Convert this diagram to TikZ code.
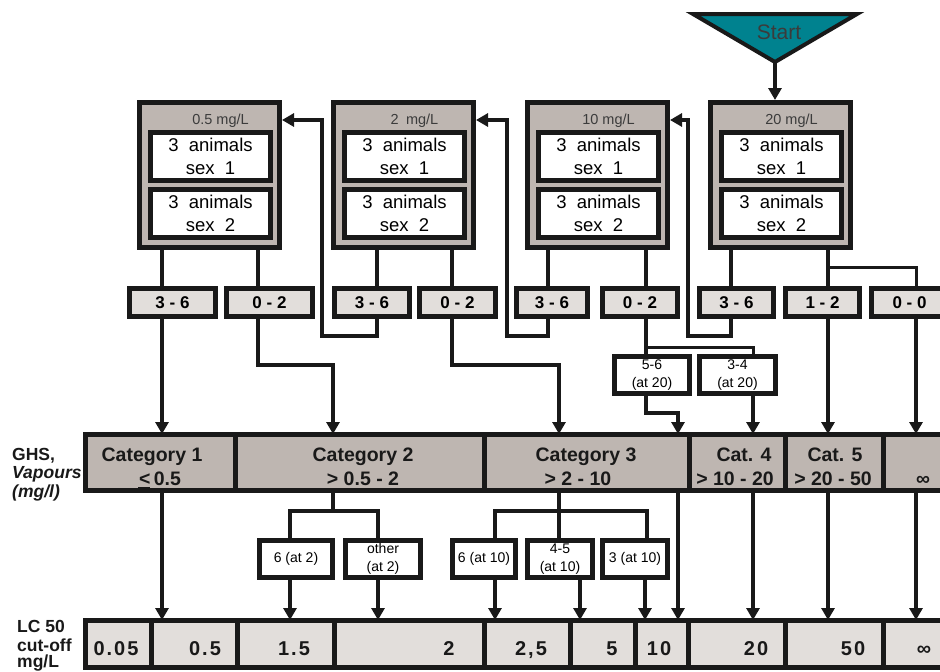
\documentclass[tikz,border=0pt]{standalone}
\usepackage{fontspec}
\setmainfont{Liberation Sans}
\newfontfamily\spacedfont[LetterSpace=10]{Liberation Sans}
\usetikzlibrary{arrows.meta}
\definecolor{boxgray}{RGB}{190,182,177}
\definecolor{lightfill}{RGB}{226,222,219}
\definecolor{startteal}{RGB}{0,130,143}
\definecolor{labgray}{RGB}{60,60,60}
\definecolor{ink}{RGB}{25,25,25}
\newcommand\ulless{\makebox[0pt][l]{\kern-1pt\rule[-5pt]{12pt}{3pt}}<}
\begin{document}
\begin{tikzpicture}[x=1pt,y=-1pt,
  concbox/.style={draw=ink, line width=5pt, fill=boxgray, anchor=north west, minimum width=140pt, minimum height=145pt, inner sep=0pt},
  animbox/.style={draw=ink, line width=5pt, fill=white, anchor=north west, minimum width=120pt, minimum height=48pt, inner sep=0pt, align=center, font=\fontsize{18.5}{23}\selectfont},
  conclab/.style={anchor=base, text=labgray, font=\fontsize{14.5}{17}\selectfont, inner sep=0pt},
  resbox/.style={draw=ink, line width=5pt, fill=lightfill, anchor=north west, minimum height=28pt, inner sep=0pt, font=\bfseries\fontsize{17}{20}\selectfont},
  smallbox/.style={draw=ink, line width=5pt, fill=white, anchor=north west, minimum height=37pt, inner sep=0pt, align=center, font=\fontsize{14}{18}\selectfont},
  catcell/.style={draw=ink, line width=5pt, fill=boxgray, anchor=north west, outer sep=0pt, minimum height=56.5pt, inner sep=0pt},
  lccell/.style={draw=ink, line width=5pt, fill=lightfill, anchor=north west, outer sep=0pt, minimum height=47pt, inner sep=0pt},
  cattext/.style={anchor=base, inner sep=0pt, font=\bfseries\fontsize{19.5}{24}\selectfont, text=ink},
  lctext/.style={anchor=base, inner sep=0pt, font=\spacedfont\bfseries\fontsize{20}{24}\selectfont, text=ink},
  sidetext/.style={anchor=base west, inner sep=0pt, font=\bfseries\fontsize{17.5}{20}\selectfont, text=ink},
  conn/.style={draw=ink, line width=4pt},
  branch/.style={draw=ink, line width=3pt},
  arr/.style={-{Triangle[width=13pt,length=12pt]}},
]
\useasboundingbox (0,0) rectangle (940,672);
\clip (0,0) rectangle (940,672);

% ---------- Start triangle ----------
\coordinate (stl) at (693,14);
\coordinate (str) at (857,14);
\coordinate (sta) at (775,62);
\draw[draw=ink, line width=4pt, fill=startteal] (stl) -- (str) -- (sta) -- cycle;
\node[anchor=base, inner sep=0pt, font=\fontsize{21}{25}\selectfont, text=ink!85] (start) at (779,39) {Start};

% ---------- concentration boxes ----------
\foreach \n/\xx/\lab in {1/137/{0.5 mg/L},2/331/{2\enspace mg/L},3/525/{10 mg/L},4/708/{20 mg/L}}{
  \node[concbox] (c\n) at (\xx,100) {};
  \node[conclab] (c\n lab) at ({\xx+83.5},124) {\lab};
  \node[animbox] (c\n a) at ({\xx+11},130) {3\ \ animals\\sex\ \ 1};
  \node[animbox] (c\n b) at ({\xx+11},187) {3\ \ animals\\sex\ \ 2};
}

% ---------- result boxes ----------
\node[resbox, minimum width=86pt] (r1a) at (127,286) {3 - 6};
\node[resbox, minimum width=86pt] (r1b) at (224,286) {0 - 2};
\node[resbox, minimum width=75pt] (r2a) at (332,286) {3 - 6};
\node[resbox, minimum width=76pt] (r2b) at (417,286) {0 - 2};
\node[resbox, minimum width=71pt] (r3a) at (514,286) {3 - 6};
\node[resbox, minimum width=75pt] (r3b) at (600,286) {0 - 2};
\node[resbox, minimum width=74pt] (r4a) at (697,286) {3 - 6};
\node[resbox, minimum width=74pt] (r4b) at (783,286) {1 - 2};
\node[resbox, minimum width=76pt] (r4c) at (869,286) {0 - 0};

% ---------- small boxes ----------
\node[smallbox, minimum width=75pt] (s56) at (612,354) {5-6\\(at 20)};
\node[smallbox, minimum width=76pt] (s34) at (697,354) {3-4\\(at 20)};
\node[smallbox, minimum width=73pt] (b6a) at (257,538) {6 (at 2)};
\node[smallbox, minimum width=75pt] (bot) at (343,538) {other\\(at 2)};
\node[smallbox, minimum width=63pt] (b6b) at (450,538) {6 (at 10)};
\node[smallbox, minimum width=65pt] (b45) at (525,538) {4-5\\(at 10)};
\node[smallbox, minimum width=65pt] (b3) at (600,538) {3 (at 10)};

% ---------- GHS category row ----------
\node[catcell, minimum width=149.5pt] (k1) at (85.5,434) {};
\node[catcell, minimum width=249pt] (k2) at (235,434) {};
\node[catcell, minimum width=205pt] (k3) at (484,434) {};
\node[catcell, minimum width=96pt] (k4) at (689,434) {};
\node[catcell, minimum width=98.5pt] (k5) at (785,434) {};
\node[catcell, minimum width=86.5pt] (k6) at (883.5,434) {};

\node[cattext] (k1t) at (152,461) {Category 1};
\node[cattext] (k1u) at (160,485) {\ulless\,0.5};
\node[cattext] (k2t) at (363,461) {Category 2};
\node[cattext] (k2u) at (363,485) {> 0.5 - 2};
\node[cattext] (k3t) at (586,461) {Category 3};
\node[cattext] (k3u) at (578,485) {> 2 - 10};
\node[cattext] (k4t) at (744,461) {Cat. 4};
\node[cattext] (k4u) at (735,485) {> 10 - 20};
\node[cattext] (k5t) at (835,461) {Cat. 5};
\node[cattext] (k5u) at (833,485) {> 20 - 50};
\node[cattext] (k6u) at (923,485) {∞};

% ---------- LC50 row ----------
\node[lccell, minimum width=65.5pt] (l1) at (85.5,620) {};
\node[lccell, minimum width=86pt] (l2) at (151,620) {};
\node[lccell, minimum width=97pt] (l3) at (237,620) {};
\node[lccell, minimum width=150pt] (l4) at (334,620) {};
\node[lccell, minimum width=86pt] (l5) at (484,620) {};
\node[lccell, minimum width=65.5pt] (l6) at (570,620) {};
\node[lccell, minimum width=53pt] (l7) at (635.5,620) {};
\node[lccell, minimum width=97pt] (l8) at (688.5,620) {};
\node[lccell, minimum width=97.5pt] (l9) at (785.5,620) {};
\node[lccell, minimum width=87pt] (l10) at (883,620) {};

\node[lctext] (l1t) at (116,655) {0.05};
\node[lctext] (l2t) at (205,655) {0.5};
\node[lctext] (l3t) at (294,655) {1.5};
\node[lctext] (l4t) at (449,655) {2};
\node[lctext] (l5t) at (531,655) {2,5};
\node[lctext] (l6t) at (612,655) {5};
\node[lctext] (l7t) at (659,655) {10};
\node[lctext] (l8t) at (756,655) {20};
\node[lctext] (l9t) at (853,655) {50};
\node[lctext] (l10t) at (924,655) {∞};

% ---------- side labels ----------
\node[sidetext] (ghs1) at (12,460) {GHS,};
\node[sidetext] (ghs2) at (12,478) {\itshape Vapours};
\node[sidetext] (ghs3) at (12,497) {\itshape (mg/l)};
\node[sidetext] (lc1) at (17,632) {LC 50};
\node[sidetext] (lc2) at (17,651) {cut-off};
\node[sidetext] (lc3) at (17,667) {mg/L};

% ---------- lane coordinates ----------
\coordinate (xA) at (162,0);
\coordinate (xB) at (258,0);
\coordinate (xC) at (377,0);
\coordinate (xD) at (452,0);
\coordinate (xE) at (548,0);
\coordinate (xF) at (646,0);
\coordinate (xG) at (731,0);
\coordinate (xH) at (828,0);
\coordinate (xI) at (916,0);
\coordinate (xJ) at (333,0);
\coordinate (xK) at (559,0);
\coordinate (xL) at (678,0);
\coordinate (xM) at (753,0);
\coordinate (xP) at (290,0);
\coordinate (xQ) at (378,0);
\coordinate (xR) at (495,0);
\coordinate (xS) at (580,0);
\coordinate (xT) at (645,0);
\coordinate (xU) at (647,0);
\coordinate (f1) at (322,0);
\coordinate (f2) at (507,0);
\coordinate (f3) at (688,0);
\coordinate (yTop) at (0,120);
\coordinate (yBot) at (0,336);
\coordinate (yR) at (0,365);
\coordinate (yBr) at (0,347);
\coordinate (y56) at (0,413);
\coordinate (y04) at (0,267);
\coordinate (yLow) at (0,511);

% ---------- connectors ----------
\draw[conn,arr] (sta) -- (c4.north -| sta);

\draw[conn] (c1.south -| xA) -- (r1a.north -| xA);
\draw[conn] (c1.south -| xB) -- (r1b.north -| xB);
\draw[conn] (c2.south -| xC) -- (r2a.north -| xC);
\draw[conn] (c2.south -| xD) -- (r2b.north -| xD);
\draw[conn] (c3.south -| xE) -- (r3a.north -| xE);
\draw[conn] (c3.south -| xF) -- (r3b.north -| xF);
\draw[conn] (c4.south -| xG) -- (r4a.north -| xG);
\draw[conn] (c4.south -| xH) -- (r4b.north -| xH);
\draw[branch] (xH |- y04) -| (r4c.north -| xI);

% feedback loops
\draw[conn,arr] (r2a.south -| xC) |- (f1 |- yBot) -- (f1 |- yTop) -- (c1.east |- yTop);
\draw[conn,arr] (r3a.south -| xE) |- (f2 |- yBot) -- (f2 |- yTop) -- (c2.east |- yTop);
\draw[conn,arr] (r4a.south -| xG) |- (f3 |- yBot) -- (f3 |- yTop) -- (c3.east |- yTop);

% results to categories
\draw[conn,arr] (r1a.south -| xA) -- (k1.north -| xA);
\draw[conn,arr] (r1b.south -| xB) |- (xJ |- yR) -- (k2.north -| xJ);
\draw[conn,arr] (r2b.south -| xD) |- (xK |- yR) -- (k3.north -| xK);
\draw[conn] (r3b.south -| xF) -- (s56.north -| xF);
\draw[branch] (xF |- yBr) -| (s34.north -| xM);
\draw[conn,arr] (s56.south -| xF) |- (xL |- y56) -- (k3.north -| xL);
\draw[conn,arr] (s34.south -| xM) -- (k4.north -| xM);
\draw[conn,arr] (r4b.south -| xH) -- (k5.north -| xH);
\draw[conn,arr] (r4c.south -| xI) -- (k6.north -| xI);

% categories to LC50
\draw[conn,arr] (k1.south -| xA) -- (l2.north -| xA);
\draw[conn] (k2.south -| xJ) -- (xJ |- yLow);
\draw[conn] (b6a.north -| xP) |- (xQ |- yLow) -- (bot.north -| xQ);
\draw[conn,arr] (b6a.south -| xP) -- (l3.north -| xP);
\draw[conn,arr] (bot.south -| xQ) -- (l4.north -| xQ);
\draw[conn] (k3.south -| xK) -- (b45.north -| xK);
\draw[conn] (b6b.north -| xR) |- (xU |- yLow) -- (b3.north -| xU);
\draw[conn,arr] (b6b.south -| xR) -- (l5.north -| xR);
\draw[conn,arr] (b45.south -| xS) -- (l6.north -| xS);
\draw[conn,arr] (b3.south -| xT) -- (l7.north -| xT);
\draw[conn,arr] (k3.south -| xL) -- (l7.north -| xL);
\draw[conn,arr] (k4.south -| xM) -- (l8.north -| xM);
\draw[conn,arr] (k5.south -| xH) -- (l9.north -| xH);
\draw[conn,arr] (k6.south -| xI) -- (l10.north -| xI);
\end{tikzpicture}
\end{document}
